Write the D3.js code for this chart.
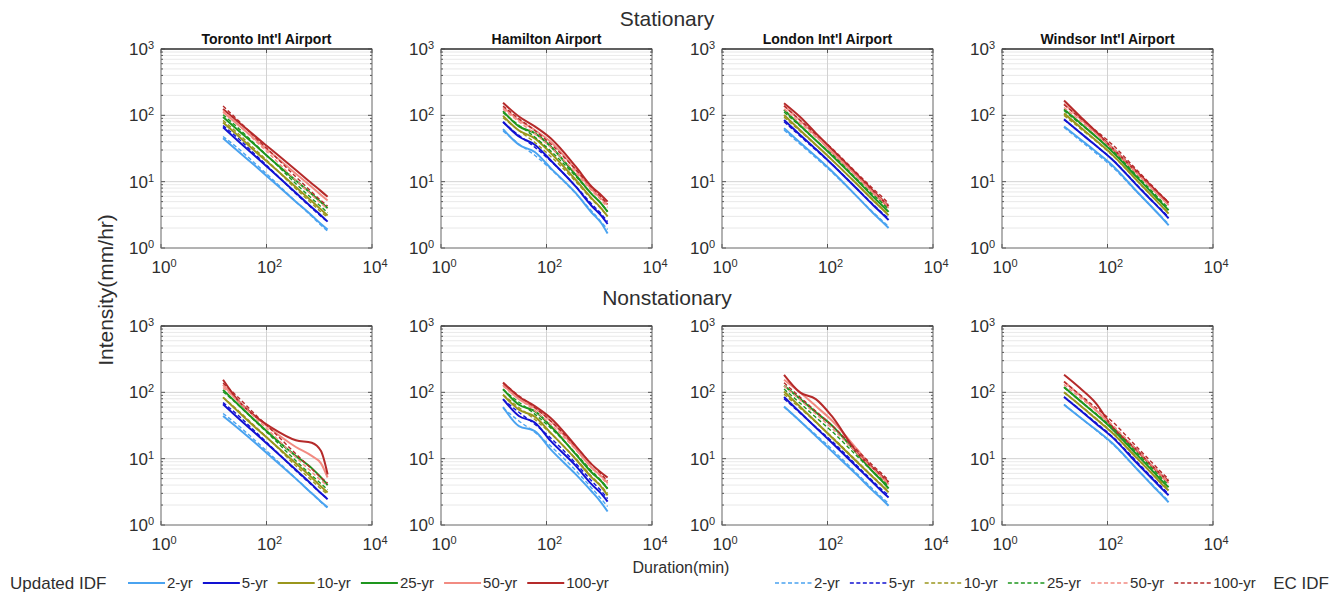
<!DOCTYPE html>
<html>
<head>
<meta charset="utf-8">
<script src="https://d3js.org/d3.v7.min.js"></script>
<style>
  body { margin: 0; background: #fff; }
  text { font-family: Arial, "Liberation Sans", Helvetica, sans-serif; fill: #2e2e2e; }
</style>
</head>
<body>
<div id="chart"></div>
<script>
// durations (min) and return periods
const durations = [15, 30, 60, 120, 360, 720, 1080, 1440];
const periods = ["2-yr", "5-yr", "10-yr", "25-yr", "50-yr", "100-yr"];
const stations = ["Toronto Int'l Airport", "Hamilton Airport", "London Int'l Airport", "Windsor Int'l Airport"];
const rowTitles = ["Stationary", "Nonstationary"];
const xTickVals = [1, 100, 10000];
const yTickVals = [1, 10, 100, 1000];

// Updated IDF, stationary (mm/hr), one row per return period
const torontoStat = [
  [45, 28, 17.5, 10.8, 5.0, 3.1, 2.3, 1.9],
  [66, 40, 24.5, 15, 6.8, 4.1, 3.1, 2.5],
  [78, 48, 29, 18, 8.3, 5.1, 3.8, 3.1],
  [94, 58, 36, 22, 10.4, 6.5, 4.9, 4.0],
  [112, 70, 44, 27.5, 13.2, 8.3, 6.3, 5.2],
  [125, 78, 49, 31, 15, 9.4, 7.2, 5.9]
];
const hamiltonStat = [
  [62, 36, 28, 16, 6.7, 3.4, 2.4, 1.65],
  [80, 48, 36, 21, 8.4, 4.3, 3.1, 2.3],
  [98, 59, 45, 27, 10.6, 5.6, 4.0, 3.0],
  [116, 68, 54, 34, 12.6, 6.5, 4.7, 3.5],
  [132, 85, 60, 40, 15, 7.7, 5.6, 4.5],
  [155, 96, 68, 45, 16.8, 8.4, 6.3, 5.0]
];
const londonStat = [
  [64, 39, 24, 14.5, 6.0, 3.4, 2.5, 2.0],
  [85, 51, 31, 18.5, 7.8, 4.5, 3.3, 2.65],
  [101, 60, 36, 21.5, 9.2, 5.3, 3.9, 3.1],
  [121, 71, 42, 25, 10.6, 6.0, 4.4, 3.5],
  [139, 84, 49, 28, 12, 6.8, 5.0, 4.0],
  [152, 95, 54, 31, 13, 7.4, 5.4, 4.3]
];
const windsorStat = [
  [68, 44, 28.5, 18, 7.1, 4.0, 2.85, 2.2],
  [87, 55, 35, 22, 8.8, 5.0, 3.6, 2.8],
  [107, 67, 42, 26, 10.5, 5.9, 4.2, 3.3],
  [124, 77, 48, 29, 11.7, 6.6, 4.7, 3.7],
  [149, 90, 54, 32, 13.4, 7.7, 5.6, 4.45],
  [167, 97, 57, 33, 14.1, 8.2, 6.0, 4.8]
];

// Updated IDF, nonstationary
const torontoNonstat = [
  [44, 28, 17.5, 10.8, 5.0, 3.0, 2.25, 1.85],
  [66, 40, 24.5, 15, 6.8, 4.1, 3.0, 2.45],
  [84, 50, 30, 18.5, 8.5, 5.2, 3.8, 3.1],
  [109, 64, 38, 23, 11, 7.2, 5.2, 4.0],
  [130, 72, 44, 28, 15, 11, 8.5, 5.2],
  [155, 73, 44, 30, 19, 17.4, 13, 5.8]
];
const hamiltonNonstat = [
  [60, 31, 26, 13.8, 5.8, 3.2, 2.2, 1.6],
  [79, 44, 35, 18.5, 7.8, 4.1, 3.0, 2.25],
  [92, 55, 43, 24.5, 9.8, 5.2, 3.8, 2.8],
  [112, 65, 52, 31, 11.6, 6.2, 4.6, 3.5],
  [130, 79, 58, 37, 14, 7.3, 5.5, 4.3],
  [141, 86, 62, 41, 15.5, 8.2, 6.2, 5.2]
];
const londonNonstat = [
  [61, 37, 22, 13, 5.7, 3.3, 2.45, 1.95],
  [85, 50, 29.5, 17.5, 7.5, 4.4, 3.2, 2.6],
  [103, 61, 36, 21, 9.0, 5.3, 3.9, 3.1],
  [126, 80, 50, 32, 12, 6.4, 4.6, 3.55],
  [155, 100, 62, 38, 14, 7.3, 5.2, 4.1],
  [184, 100, 79, 44, 12.5, 7.3, 5.5, 4.4]
];
const windsorNonstat = [
  [65, 42, 27.5, 17.5, 7.0, 3.9, 2.8, 2.2],
  [85, 54, 34, 21.5, 8.6, 4.9, 3.5, 2.8],
  [100, 64, 40, 25, 10.2, 5.8, 4.1, 3.3],
  [120, 75, 47, 28.5, 11.5, 6.5, 4.6, 3.7],
  [146, 90, 54, 31.5, 13, 7.4, 5.3, 4.3],
  [184, 116, 69, 31, 13.5, 7.6, 5.6, 4.6]
];

// EC IDF (same in both rows)
const torontoEC = [
  [48, 31, 19, 11.5, 5.0, 3.0, 2.2, 1.8],
  [70, 44, 26, 15.5, 6.6, 4.0, 3.0, 2.5],
  [84, 52, 31, 18.5, 7.8, 4.7, 3.5, 2.9],
  [102, 63, 37, 22, 9.3, 5.6, 4.2, 3.4],
  [118, 72, 42, 25, 10.5, 6.3, 4.7, 3.9],
  [138, 82, 47, 28, 11.8, 7.0, 5.2, 4.3]
];
const hamiltonEC = [
  [58, 37, 25, 15.5, 6.6, 3.6, 2.5, 1.9],
  [78, 50, 33, 20.5, 8.5, 4.6, 3.3, 2.5],
  [92, 59, 39, 24, 10, 5.4, 3.9, 3.0],
  [110, 71, 47, 29, 12, 6.5, 4.7, 3.6],
  [124, 80, 53, 33, 13.6, 7.3, 5.3, 4.1],
  [138, 89, 59, 37, 15.2, 8.2, 5.9, 4.6]
];
const londonEC = [
  [60, 37, 23, 14, 6.0, 3.5, 2.6, 2.1],
  [80, 49, 30, 18.5, 7.9, 4.6, 3.4, 2.8],
  [94, 58, 35.5, 21.5, 9.2, 5.4, 4.0, 3.2],
  [112, 69, 42, 26, 11, 6.4, 4.8, 3.8],
  [125, 77, 47, 29, 12.2, 7.1, 5.3, 4.2],
  [139, 85, 52, 32, 13.5, 7.9, 5.9, 4.7]
];
const windsorEC = [
  [66, 42, 27, 17, 7.0, 4.0, 2.9, 2.3],
  [86, 55, 35, 22, 9.0, 5.1, 3.7, 2.9],
  [100, 64, 41, 25.5, 10.4, 5.9, 4.3, 3.4],
  [118, 75, 48, 30, 12.3, 7.0, 5.0, 4.0],
  [131, 84, 53, 33, 13.6, 7.7, 5.6, 4.4],
  [145, 92, 59, 37, 15, 8.5, 6.1, 4.9]
];

const updatedRows = [
  [torontoStat, hamiltonStat, londonStat, windsorStat],
  [torontoNonstat, hamiltonNonstat, londonNonstat, windsorNonstat]
];
const ecData = [torontoEC, hamiltonEC, londonEC, windsorEC];

const colors = ["#4aa3f0", "#1212d2", "#9a961c", "#1e961e", "#f28b82", "#b52a2a"];

const W = 1334, H = 593;
const panelLefts = [161, 441, 722, 1002];
const panelTops = [49, 326];
const pw = 211, ph = 199;

const svg = d3.select("#chart").append("svg")
  .attr("width", W)
  .attr("height", H);

const x = d3.scaleLog().domain([1, 10000]).range([0, pw]);
const y = d3.scaleLog().domain([1, 1000]).range([ph, 0]);

const line = d3.line()
  .x((d, i) => x(durations[i]))
  .y(d => y(d))
  .curve(d3.curveMonotoneX);

function powerLabel(sel, v) {
  const e = Math.round(Math.log10(v));
  sel.append("tspan").text("10");
  sel.append("tspan").attr("dy", "-0.55em").style("font-size", "11px").text(e);
}

function drawPanel(g, updated, ec, title) {
  // minor y grid
  g.selectAll("line.minor")
    .data(y.ticks().filter(v => !yTickVals.includes(v)))
    .enter().append("line")
    .attr("x1", 0).attr("x2", pw)
    .attr("y1", d => y(d)).attr("y2", d => y(d))
    .attr("stroke", "#e3e3e3").attr("stroke-width", 0.8);

  // major grid
  g.selectAll("line.majy")
    .data([10, 100])
    .enter().append("line")
    .attr("x1", 0).attr("x2", pw)
    .attr("y1", d => y(d)).attr("y2", d => y(d))
    .attr("stroke", "#d2d2d2").attr("stroke-width", 1);
  g.append("line")
    .attr("x1", x(100)).attr("x2", x(100))
    .attr("y1", 0).attr("y2", ph)
    .attr("stroke", "#d2d2d2").attr("stroke-width", 1);

  // minor ticks on left/right
  y.ticks().forEach(v => {
    const len = yTickVals.includes(v) ? 4 : 2;
    g.append("line").attr("x1", 0).attr("x2", len).attr("y1", y(v)).attr("y2", y(v)).attr("stroke", "#555");
    g.append("line").attr("x1", pw - len).attr("x2", pw).attr("y1", y(v)).attr("y2", y(v)).attr("stroke", "#555");
  });
  xTickVals.forEach(v => {
    g.append("line").attr("x1", x(v)).attr("x2", x(v)).attr("y1", ph).attr("y2", ph - 4).attr("stroke", "#555");
    g.append("line").attr("x1", x(v)).attr("x2", x(v)).attr("y1", 0).attr("y2", 4).attr("stroke", "#555");
  });

  // updated IDF (solid)
  g.selectAll("path.upd")
    .data(updated)
    .enter().append("path")
    .attr("d", line)
    .attr("fill", "none")
    .attr("stroke", (d, i) => colors[i])
    .attr("stroke-width", 2);

  // EC IDF (dashed)
  g.selectAll("path.ec")
    .data(ec)
    .enter().append("path")
    .attr("d", line)
    .attr("fill", "none")
    .attr("stroke", (d, i) => colors[i])
    .attr("stroke-width", 1.4)
    .attr("stroke-dasharray", "4,2.5");

  // box
  g.append("rect")
    .attr("width", pw).attr("height", ph)
    .attr("fill", "none").attr("stroke", "#666").attr("stroke-width", 1);
  g.append("line").attr("x1", 0).attr("x2", pw).attr("y1", 0).attr("y2", 0)
    .attr("stroke", "#444").attr("stroke-width", 1.5);

  // tick labels
  yTickVals.forEach(v => {
    const t = g.append("text")
      .attr("x", -7).attr("y", y(v) + 6)
      .attr("text-anchor", "end")
      .style("font-size", "17px");
    powerLabel(t, v);
  });
  xTickVals.forEach(v => {
    const t = g.append("text")
      .attr("x", x(v) + 3).attr("y", ph + 25)
      .attr("text-anchor", "middle")
      .style("font-size", "17px");
    powerLabel(t, v);
  });

  if (title) {
    g.append("text")
      .attr("x", pw / 2).attr("y", -5)
      .attr("text-anchor", "middle")
      .style("font-size", "14px").style("font-weight", "bold")
      .style("fill", "#111")
      .text(title);
  }
}

updatedRows.forEach((row, r) => {
  row.forEach((series, s) => {
    const g = svg.append("g")
      .attr("transform", `translate(${panelLefts[s]},${panelTops[r]})`);
    drawPanel(g, series, ecData[s], r === 0 ? stations[s] : null);
  });
});

// row titles
svg.append("text").attr("x", 667).attr("y", 26).attr("text-anchor", "middle")
  .style("font-size", "21px").text(rowTitles[0]);
svg.append("text").attr("x", 667).attr("y", 305).attr("text-anchor", "middle")
  .style("font-size", "21px").text(rowTitles[1]);

// axis titles
svg.append("text")
  .attr("transform", "translate(113,290) rotate(-90)")
  .attr("text-anchor", "middle")
  .style("font-size", "21px")
  .text("Intensity(mm/hr)");
svg.append("text").attr("x", 681).attr("y", 573).attr("text-anchor", "middle")
  .style("font-size", "16px").text("Duration(min)");

// legends
function drawLegend(startX, yPos, dashed) {
  let cx = startX;
  periods.forEach((p, i) => {
    svg.append("line")
      .attr("x1", cx).attr("x2", cx + 37)
      .attr("y1", yPos).attr("y2", yPos)
      .attr("stroke", colors[i])
      .attr("stroke-width", dashed ? 1.4 : 2)
      .attr("stroke-dasharray", dashed ? "4,2.5" : null);
    const t = svg.append("text")
      .attr("x", cx + 39).attr("y", yPos + 5)
      .style("font-size", "15px")
      .text(p);
    cx += 39 + t.node().getComputedTextLength() + 10;
  });
  return cx;
}

svg.append("text").attr("x", 10).attr("y", 589)
  .style("font-size", "17px").text("Updated IDF");
drawLegend(128, 583, false);
drawLegend(775, 583, true);
svg.append("text").attr("x", 1329).attr("y", 589)
  .attr("text-anchor", "end")
  .style("font-size", "17px").text("EC IDF");
</script>
</body>
</html>
